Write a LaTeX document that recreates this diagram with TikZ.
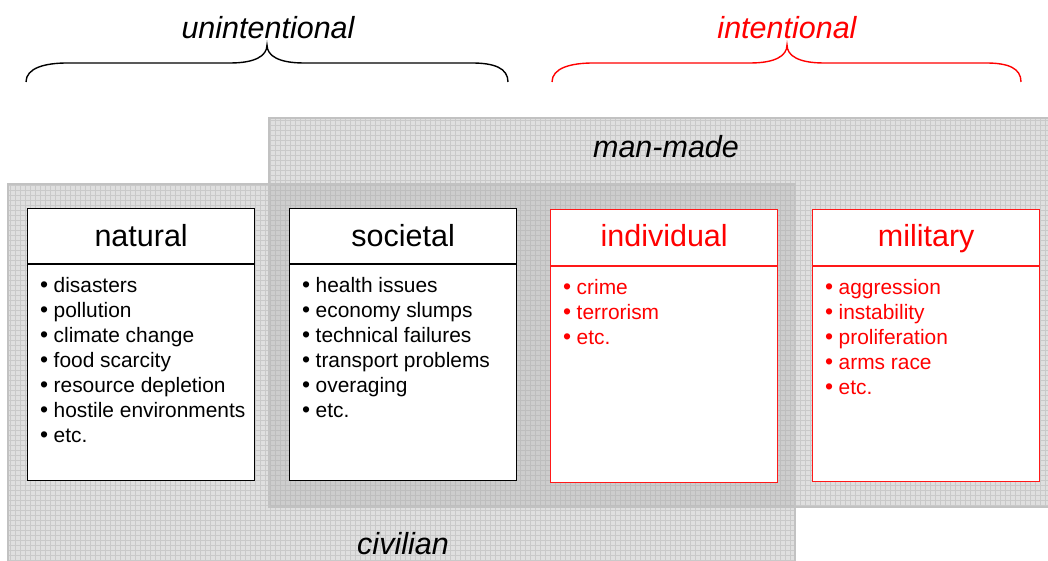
\documentclass[tikz,border=0pt]{standalone}
\usepackage{fontspec}
\setmainfont{Liberation Sans}
\usetikzlibrary{calc}

\definecolor{gridfill}{HTML}{DFDFDF}
\definecolor{gridline}{HTML}{C9C9C9}
\definecolor{overlapfill}{HTML}{CDCDCD}
\definecolor{overlapline}{HTML}{BEBEBE}
\definecolor{regionedge}{HTML}{C2C2C2}
\definecolor{threat}{HTML}{FF0000}

\newcommand\bul{\makebox[13.5pt][l]{\fontsize{23}{25}\selectfont•}}

\tikzset{
  catbox/.style={draw, line width=1.3pt, fill=white, inner sep=0pt,
    minimum width=227pt, minimum height=272pt, anchor=north west},
  redbox/.style={catbox, draw=threat!90!white},
  headrule/.style={line width=1.3pt},
  titletext/.style={anchor=base, inner sep=0pt, font=\fontsize{30.5}{36}\selectfont},
  bodytext/.style={anchor=north west, inner sep=0pt, align=left,
    font=\fontsize{20.9}{25}\selectfont},
  grouplabel/.style={anchor=base, inner sep=0pt, font=\fontsize{30.5}{36}\selectfont\itshape},
  bracepath/.style={line width=1.4pt},
  edge/.style={draw=regionedge, line width=2pt},
}

\begin{document}
\begin{tikzpicture}[x=1pt, y=-1pt]
\useasboundingbox (0,0) rectangle (1048,561);
\clip (0,0) rectangle (1048,561);

% civilian area
\fill[gridfill] (8,184) rectangle (795,570);
\begin{scope}
  \clip (8,184) rectangle (795,570);
  \draw[gridline, line width=0.6pt, step=5pt] (8,184) grid (795,570);
\end{scope}

% man-made area
\fill[gridfill] (269,118) rectangle (1060,507);
\begin{scope}
  \clip (269,118) rectangle (1060,507);
  \draw[gridline, line width=0.6pt, step=5pt] (269,118) grid (1060,507);
\end{scope}

% where both areas overlap
\fill[overlapfill] (269,184) rectangle (795,507);
\begin{scope}
  \clip (269,184) rectangle (795,507);
  \draw[overlapline, line width=0.6pt, step=5pt] (269,184) grid (795,507);
\end{scope}

% area outlines
\draw[edge] (8,570) -- (8,184) -- (795,184) -- (795,570);
\draw[edge] (1060,118) -- (269,118) -- (269,507) -- (1060,507);

% area labels
\node[grouplabel] (manmade) at (666,158) {man-made};
\node[grouplabel] (civilian) at (403,554) {civilian};

% braces
\draw[bracepath] (26,82) .. controls (26,68) and (45,63) .. (67,63) -- (230,63)
  .. controls (255,63) and (267,56) .. (267,45)
  .. controls (267,56) and (279,63) .. (304,63) -- (472,63)
  .. controls (494,63) and (508,68) .. (508,82);
\draw[bracepath, threat] (552,82) .. controls (552,68) and (571,63) .. (593,63) -- (750,63)
  .. controls (775,63) and (787,56) .. (787,45)
  .. controls (787,56) and (799,63) .. (824,63) -- (986,63)
  .. controls (1008,63) and (1021,68) .. (1021,82);
\node[grouplabel] (unint) at (268,39) {unintentional};
\node[grouplabel, text=threat] (intent) at (787,39) {intentional};

% natural
\node[catbox] (nat) at (27,208) {};
\draw[headrule] ($(nat.north west)+(0,56)$) -- ($(nat.north east)+(0,56)$);
\node[titletext] (natT) at ($(nat.north)+(0,38)$) {natural};
\node[bodytext] (natB) at ($(nat.north west)+(13,66.5)$)
  {\strut\bul disasters\\ \strut\bul pollution\\ \strut\bul climate change\\
   \strut\bul food scarcity\\ \strut\bul resource depletion\\
   \strut\bul hostile environments\\ \strut\bul etc.};

% societal
\node[catbox] (soc) at (289,208) {};
\draw[headrule] ($(soc.north west)+(0,56)$) -- ($(soc.north east)+(0,56)$);
\node[titletext] (socT) at ($(soc.north)+(0,38)$) {societal};
\node[bodytext] (socB) at ($(soc.north west)+(13,66.5)$)
  {\strut\bul health issues\\ \strut\bul economy slumps\\ \strut\bul technical failures\\
   \strut\bul transport problems\\ \strut\bul overaging\\ \strut\bul etc.};

% individual
\node[redbox, minimum height=273pt] (ind) at (550,209) {};
\draw[headrule, threat!90!white] ($(ind.north west)+(0,57)$) -- ($(ind.north east)+(0,57)$);
\node[titletext, text=threat] (indT) at ($(ind.north)+(0,38)$) {individual};
\node[bodytext, text=threat] (indB) at ($(ind.north west)+(13,67.5)$)
  {\strut\bul crime\\ \strut\bul terrorism\\ \strut\bul etc.};

% military
\node[redbox] (mil) at (812,209) {};
\draw[headrule, threat!90!white] ($(mil.north west)+(0,57)$) -- ($(mil.north east)+(0,57)$);
\node[titletext, text=threat] (milT) at ($(mil.north)+(0,38)$) {military};
\node[bodytext, text=threat] (milB) at ($(mil.north west)+(13,67.5)$)
  {\strut\bul aggression\\ \strut\bul instability\\ \strut\bul proliferation\\
   \strut\bul arms race\\ \strut\bul etc.};
\end{tikzpicture}
\end{document}
